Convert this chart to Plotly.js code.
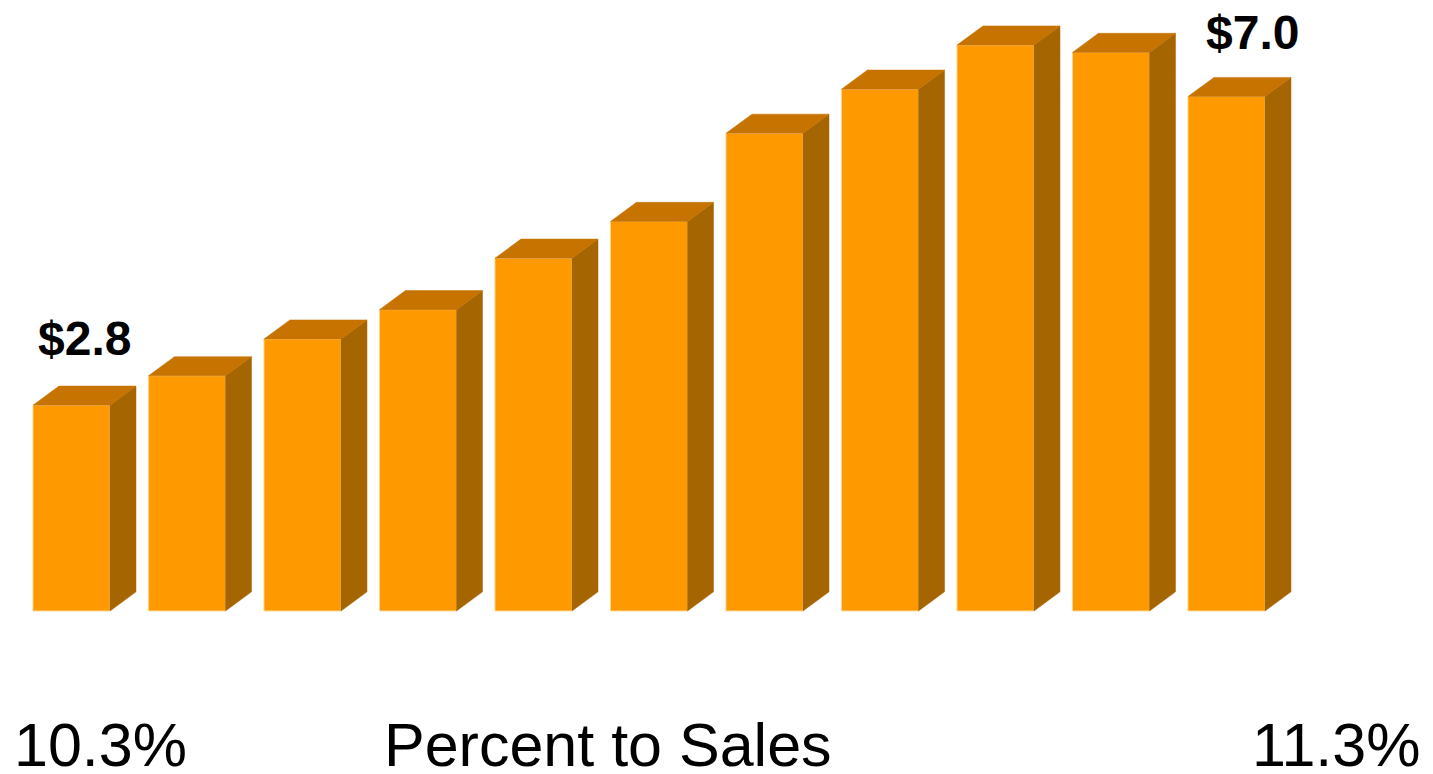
<!DOCTYPE html>
<html>
<head>
<meta charset="utf-8">
<script src="https://cdn.plot.ly/plotly-3.0.1.min.js"></script>
<style>
  html, body { margin: 0; padding: 0; background: #ffffff; }
  #chart { width: 1433px; height: 774px; }
</style>
</head>
<body>
<div id="chart"></div>
<script>
// ---- data ----
const barIndex = [0, 1, 2, 3, 4, 5, 6, 7, 8, 9, 10];
const spending = [2.8, 3.2, 3.7, 4.1, 4.8, 5.3, 6.5, 7.1, 7.7, 7.6, 7.0];
const valueLabels = ['$2.8', '', '', '', '', '', '', '', '', '', '$7.0'];
const leftPercent = '10.3%';
const axisCaption = 'Percent to Sales';
const rightPercent = '11.3%';

// ---- styling ----
const FRONT = '#FF9900';
const TOP = '#C67300';
const SIDE = '#A56500';
const BAR_W = 0.667;   // in category units
const DEPTH_X = 0.225; // in category units
const DEPTH_Y = 0.26;  // in value units

const traces = [];

// front faces
traces.push({
  type: 'bar',
  x: barIndex,
  y: spending,
  width: BAR_W,
  marker: { color: FRONT, line: { color: 'rgba(255,215,150,0.9)', width: 1 } },
  hoverinfo: 'skip',
  showlegend: false
});

// side faces and top faces as polygons
const sideX = [], sideY = [], topX = [], topY = [];
barIndex.forEach((i, k) => {
  const v = spending[k];
  const xl = i - BAR_W / 2, xr = i + BAR_W / 2;
  sideX.push(xr, xr + DEPTH_X, xr + DEPTH_X, xr, xr, null);
  sideY.push(0, DEPTH_Y, v + DEPTH_Y, v, 0, null);
  topX.push(xl, xl + DEPTH_X, xr + DEPTH_X, xr, xl, null);
  topY.push(v, v + DEPTH_Y, v + DEPTH_Y, v, v, null);
});
traces.push({
  type: 'scatter', mode: 'lines', x: sideX, y: sideY, fill: 'toself',
  fillcolor: SIDE, line: { color: SIDE, width: 0.5 }, hoverinfo: 'skip', showlegend: false
});
traces.push({
  type: 'scatter', mode: 'lines', x: topX, y: topY, fill: 'toself',
  fillcolor: TOP, line: { color: TOP, width: 0.5 }, hoverinfo: 'skip', showlegend: false
});

const annotations = [];
valueLabels.forEach((t, k) => {
  if (!t) return;
  annotations.push({
    x: barIndex[k] + DEPTH_X / 2, y: spending[k] + DEPTH_Y,
    xref: 'x', yref: 'y', text: t, showarrow: false,
    xanchor: 'center', yanchor: 'middle', yshift: k === 0 ? 48 : 45,
    xshift: k === barIndex.length - 1 ? 13 : 0,
    font: { family: 'Liberation Sans, Arial, sans-serif', size: 48, weight: 'bold', color: '#000000' }
  });
});
const bottomFont = { family: 'Liberation Sans, Arial, sans-serif', size: 61, color: '#000000' };
[[leftPercent, 100], [axisCaption, 608], [rightPercent, 1336]].forEach(([t, px]) => {
  annotations.push({
    x: px / 1433, y: 1 - 745 / 774, xref: 'paper', yref: 'paper',
    text: t, showarrow: false, xanchor: 'center', yanchor: 'middle', font: bottomFont
  });
});

const layout = {
  width: 1433, height: 774,
  margin: { l: 0, r: 0, t: 0, b: 0 },
  paper_bgcolor: '#ffffff', plot_bgcolor: '#ffffff',
  showlegend: false,
  hovermode: false,
  xaxis: { range: [-0.619, 11.788], visible: false, fixedrange: true },
  yaxis: { range: [-2.218, 8.313], visible: false, fixedrange: true },
  annotations: annotations
};

Plotly.newPlot('chart', traces, layout, { displayModeBar: false, staticPlot: true });
</script>
</body>
</html>
